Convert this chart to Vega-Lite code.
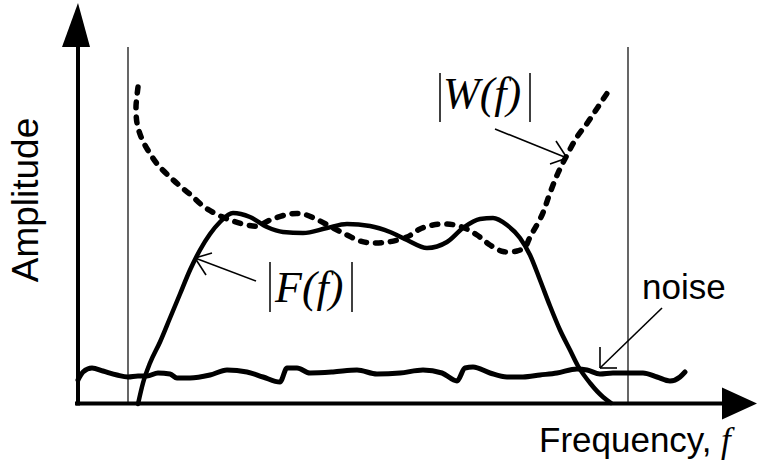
{
  "$schema": "https://vega.github.io/schema/vega-lite/v6.json",
  "width": 757,
  "height": 471,
  "padding": 0,
  "autosize": {"type": "none"},
  "background": "white",
  "config": {"view": {"stroke": null}},
  "datasets": {
    "F": [
      {"i":0,"f":61,"a":0},{"i":1,"f":66,"a":21},{"i":2,"f":73,"a":41},{"i":3,"f":83,"a":62},
      {"i":4,"f":93,"a":86},{"i":5,"f":103,"a":110},{"i":6,"f":113,"a":134},{"i":7,"f":123,"a":154},
      {"i":8,"f":133,"a":170},{"i":9,"f":143,"a":182},{"i":10,"f":156,"a":191},{"i":11,"f":173,"a":187},
      {"i":12,"f":190,"a":177},{"i":13,"f":206,"a":172},{"i":14,"f":226,"a":171},{"i":15,"f":250,"a":176},
      {"i":16,"f":270,"a":180},{"i":17,"f":293,"a":178},{"i":18,"f":313,"a":172},{"i":19,"f":330,"a":164},
      {"i":20,"f":350,"a":156},{"i":21,"f":370,"a":162},{"i":22,"f":386,"a":176},{"i":23,"f":403,"a":185},
      {"i":24,"f":416,"a":186},{"i":25,"f":430,"a":179},{"i":26,"f":443,"a":166},{"i":27,"f":453,"a":149},
      {"i":28,"f":463,"a":124},{"i":29,"f":473,"a":98},{"i":30,"f":483,"a":74},{"i":31,"f":493,"a":54},
      {"i":32,"f":501,"a":38},{"i":33,"f":513,"a":21},{"i":34,"f":526,"a":7},{"i":35,"f":534,"a":1}
    ],
    "W": [
      {"i":0,"f":61,"a":317},{"i":1,"f":59.5,"a":304},{"i":2,"f":59,"a":297},{"i":3,"f":60,"a":281},
      {"i":4,"f":64.5,"a":266},{"i":5,"f":72,"a":252},{"i":6,"f":81,"a":239},{"i":7,"f":93,"a":227},
      {"i":8,"f":103,"a":218},{"i":9,"f":115,"a":208},{"i":10,"f":126,"a":198},{"i":11,"f":141,"a":189},
      {"i":12,"f":156,"a":183},{"i":13,"f":170,"a":179},{"i":14,"f":181,"a":178},{"i":15,"f":193,"a":184},
      {"i":16,"f":213,"a":190},{"i":17,"f":226,"a":190},{"i":18,"f":241,"a":184},{"i":19,"f":256,"a":176},
      {"i":20,"f":270,"a":169},{"i":21,"f":283,"a":163},{"i":22,"f":296,"a":161},{"i":23,"f":311,"a":162},
      {"i":24,"f":330,"a":167},{"i":25,"f":343,"a":175},{"i":26,"f":356,"a":179},{"i":27,"f":370,"a":180},
      {"i":28,"f":385,"a":177},{"i":29,"f":400,"a":169},{"i":30,"f":413,"a":159},{"i":31,"f":426,"a":152.5},
      {"i":32,"f":440,"a":153},{"i":33,"f":448,"a":157},{"i":34,"f":453,"a":167},{"i":35,"f":465,"a":189},
      {"i":36,"f":473,"a":211},{"i":37,"f":481,"a":231},{"i":38,"f":490,"a":249},{"i":39,"f":500,"a":267},
      {"i":40,"f":511,"a":282},{"i":41,"f":521,"a":297},{"i":42,"f":531,"a":312},{"i":43,"f":534,"a":316}
    ],
    "N": [
      {"i":0,"f":1,"a":24},{"i":1,"f":6,"a":32},{"i":2,"f":15,"a":36},{"i":3,"f":26,"a":33},
      {"i":4,"f":40,"a":29},{"i":5,"f":51,"a":27},{"i":6,"f":61,"a":28},{"i":7,"f":70,"a":28},
      {"i":8,"f":81,"a":31},{"i":9,"f":93,"a":30},{"i":10,"f":100,"a":26},{"i":11,"f":113,"a":26},
      {"i":12,"f":133,"a":29},{"i":13,"f":150,"a":34},{"i":14,"f":170,"a":32},{"i":15,"f":186,"a":27},
      {"i":16,"f":203,"a":22},{"i":17,"f":210,"a":36},{"i":18,"f":220,"a":36},{"i":19,"f":233,"a":31},
      {"i":20,"f":256,"a":32},{"i":21,"f":280,"a":34},{"i":22,"f":300,"a":30},{"i":23,"f":323,"a":31},
      {"i":24,"f":346,"a":34},{"i":25,"f":365,"a":31},{"i":26,"f":380,"a":23},{"i":27,"f":388,"a":36},
      {"i":28,"f":396,"a":37},{"i":29,"f":413,"a":31},{"i":30,"f":430,"a":27},{"i":31,"f":446,"a":27},
      {"i":32,"f":463,"a":29},{"i":33,"f":480,"a":31},{"i":34,"f":500,"a":35},{"i":35,"f":510,"a":34},
      {"i":36,"f":523,"a":30},{"i":37,"f":536,"a":31},{"i":38,"f":550,"a":31},{"i":39,"f":566,"a":31},
      {"i":40,"f":580,"a":27},{"i":41,"f":593,"a":23},{"i":42,"f":603,"a":27},{"i":43,"f":608,"a":32}
    ],
    "axes": [
      {"f":-2,"a":0.5,"f2":646,"a2":0.5},
      {"f":1,"a":-1.5,"f2":1,"a2":358}
    ],
    "guides": [
      {"f":51,"a":0,"f2":51,"a2":357},
      {"f":551,"a":0,"f2":551,"a2":357}
    ],
    "pointers": [
      {"f":418,"a":275,"f2":490,"a2":246},
      {"f":479,"a":263,"f2":490,"a2":246},
      {"f":473,"a":240,"f2":490,"a2":246},
      {"f":179,"a":123,"f2":118,"a2":146},
      {"f":135,"a":151,"f2":118,"a2":146},
      {"f":129,"a":129,"f2":118,"a2":146},
      {"f":585,"a":96,"f2":523,"a2":36},
      {"f":523,"a":57,"f2":523,"a2":36},
      {"f":540,"a":36,"f2":523,"a2":36}
    ],
    "bars": [
      {"f":363,"a":331,"f2":363,"a2":282},
      {"f":453,"a":331,"f2":453,"a2":282},
      {"f":193,"a":142,"f2":193,"a2":92},
      {"f":275,"a":142,"f2":275,"a2":92}
    ],
    "xhead": [
      {"f":645,"a":-15.5,"a2":16.5},
      {"f":680,"a":0.5,"a2":0.5}
    ],
    "yhead": [
      {"a":357,"f":-15,"f2":13},
      {"a":401,"f":1,"f2":1}
    ],
    "sans": [
      {"f":462,"a":-48,"t":"Frequency,"},
      {"f":565,"a":105,"t":"noise"}
    ],
    "vertical": [
      {"f":-39,"a":204,"t":"Amplitude"}
    ],
    "italicSmall": [
      {"f":644,"a":-48,"t":"f"}
    ],
    "italic": [
      {"f":366,"a":296,"t":"W(f)"},
      {"f":198,"a":102,"t":"F(f)"}
    ]
  },
  "encoding": {
    "x": {"field":"f","type":"quantitative","scale":{"domain":[-77,680],"nice":false,"zero":false},"axis":null},
    "y": {"field":"a","type":"quantitative","scale":{"domain":[-67,404],"nice":false,"zero":false},"axis":null}
  },
  "layer": [
    {"data":{"name":"guides"},"mark":{"type":"rule","color":"black","strokeWidth":1.2},
     "encoding":{"x2":{"field":"f2"},"y2":{"field":"a2"}}},
    {"data":{"name":"axes"},"mark":{"type":"rule","color":"black","strokeWidth":4,"strokeCap":"butt"},
     "encoding":{"x2":{"field":"f2"},"y2":{"field":"a2"}}},
    {"data":{"name":"xhead"},"mark":{"type":"area","color":"black","orient":"vertical","opacity":1},
     "encoding":{"y2":{"field":"a2"}}},
    {"data":{"name":"yhead"},"mark":{"type":"area","color":"black","orient":"horizontal","opacity":1},
     "encoding":{"x2":{"field":"f2"}}},
    {"data":{"name":"N"},"mark":{"type":"line","color":"black","strokeWidth":5,"strokeCap":"round","strokeJoin":"round","interpolate":"monotone"},
     "encoding":{"order":{"field":"i"}}},
    {"data":{"name":"F"},"mark":{"type":"line","color":"black","strokeWidth":4.5,"strokeCap":"round","strokeJoin":"round","interpolate":"monotone"},
     "encoding":{"order":{"field":"i"}}},
    {"data":{"name":"W"},"mark":{"type":"line","color":"black","strokeWidth":5.5,"strokeCap":"round","strokeDash":[6,9],"interpolate":"catmull-rom"},
     "encoding":{"order":{"field":"i"}}},
    {"data":{"name":"pointers"},"mark":{"type":"rule","color":"black","strokeWidth":1.6},
     "encoding":{"x2":{"field":"f2"},"y2":{"field":"a2"}}},
    {"data":{"name":"bars"},"mark":{"type":"rule","color":"black","strokeWidth":1.5},
     "encoding":{"x2":{"field":"f2"},"y2":{"field":"a2"}}},
    {"data":{"name":"sans"},"mark":{"type":"text","font":"Liberation Sans","fontSize":35,"align":"left","baseline":"alphabetic","color":"black"},
     "encoding":{"text":{"field":"t"}}},
    {"data":{"name":"vertical"},"mark":{"type":"text","font":"Liberation Sans","fontSize":37,"align":"center","baseline":"alphabetic","angle":270,"color":"black"},
     "encoding":{"text":{"field":"t"}}},
    {"data":{"name":"italicSmall"},"mark":{"type":"text","font":"Liberation Serif","fontStyle":"italic","fontSize":35,"align":"left","baseline":"alphabetic","color":"black"},
     "encoding":{"text":{"field":"t"}}},
    {"data":{"name":"italic"},"mark":{"type":"text","font":"Liberation Serif","fontStyle":"italic","fontSize":44,"align":"left","baseline":"alphabetic","color":"black"},
     "encoding":{"text":{"field":"t"}}}
  ]
}
